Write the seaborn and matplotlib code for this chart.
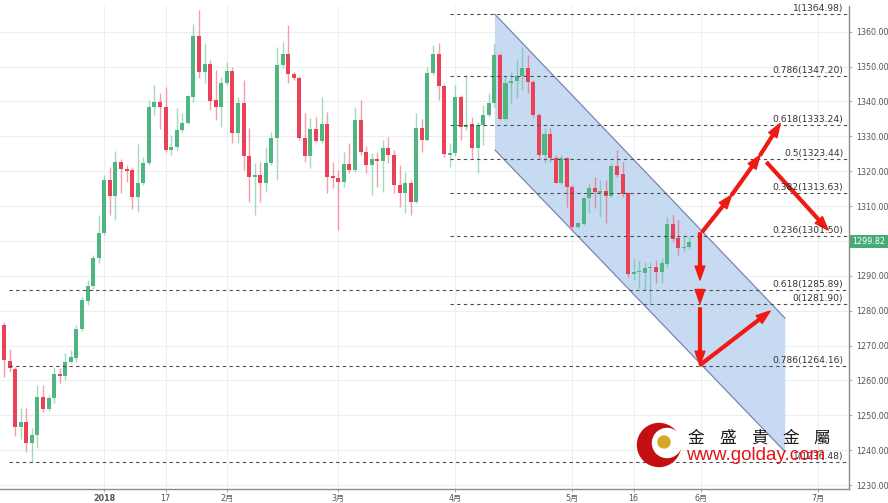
import matplotlib
matplotlib.use('Agg')
import matplotlib.pyplot as plt
import matplotlib.transforms as mtransforms
from matplotlib.patches import Polygon, Circle
import seaborn as sns
import numpy as np

# daily XAUUSD candles, Dec 2017 - end of May 2018
opens = [1275.9, 1265.6, 1263.3, 1246.7, 1248.2, 1242.0, 1244.3, 1255.3, 1251.7, 1255.0,
         1261.8, 1261.3, 1265.4, 1266.3, 1274.7, 1282.8, 1287.1, 1295.0, 1302.2, 1317.5,
         1312.9, 1322.7, 1320.5, 1320.3, 1312.7, 1316.7, 1322.3, 1338.5, 1339.9, 1338.5,
         1326.1, 1326.8, 1331.8, 1333.9, 1341.4, 1358.8, 1348.5, 1350.7, 1340.4, 1338.5,
         1345.2, 1348.8, 1331.0, 1339.6, 1324.4, 1318.4, 1318.9, 1316.5, 1322.4, 1329.4,
         1350.6, 1353.5, 1347.8, 1346.8, 1329.4, 1324.4, 1332.1, 1328.7, 1333.4, 1318.6,
         1318.0, 1316.8, 1322.1, 1320.3, 1334.7, 1325.6, 1321.8, 1323.4, 1322.9, 1326.6,
         1324.6, 1316.0, 1313.7, 1316.7, 1311.2, 1332.3, 1328.9, 1348.1, 1353.6, 1344.4,
         1324.6, 1325.1, 1341.4, 1332.8, 1333.4, 1326.6, 1333.2, 1336.1, 1339.6, 1353.3,
         1334.9, 1345.2, 1345.9, 1347.3, 1349.5, 1345.7, 1336.1, 1324.6, 1330.6, 1323.7,
         1316.7, 1323.7, 1315.6, 1304.1, 1304.9, 1312.2, 1315.1, 1313.8, 1314.4, 1312.9,
         1321.5, 1319.2, 1313.7, 1290.5, 1291.0, 1290.7, 1292.1, 1292.6, 1291.2, 1293.4,
         1304.9, 1300.8, 1297.9, 1298.2]
highs = [1276.8, 1269.0, 1263.8, 1252.1, 1252.1, 1246.3, 1258.7, 1258.7, 1255.8, 1263.9,
         1263.5, 1267.9, 1268.7, 1275.9, 1283.9, 1288.8, 1296.0, 1307.4, 1318.9, 1321.3,
         1325.9, 1323.5, 1321.8, 1320.9, 1327.8, 1324.2, 1340.4, 1344.7, 1342.3, 1344.1,
         1330.4, 1338.0, 1336.6, 1341.9, 1362.2, 1366.2, 1356.8, 1351.9, 1349.0, 1347.1,
         1351.4, 1350.0, 1341.4, 1346.1, 1332.3, 1322.3, 1322.7, 1327.0, 1331.3, 1355.7,
         1357.1, 1361.9, 1348.5, 1347.3, 1336.6, 1335.3, 1335.6, 1341.4, 1337.1, 1322.7,
         1320.3, 1325.6, 1328.0, 1338.5, 1340.4, 1327.2, 1325.1, 1325.6, 1328.9, 1329.9,
         1326.1, 1321.8, 1319.9, 1317.5, 1336.6, 1334.9, 1350.0, 1356.2, 1356.8, 1345.0,
         1328.0, 1344.7, 1341.9, 1347.6, 1335.6, 1334.2, 1339.0, 1342.5, 1356.5, 1353.8,
         1347.1, 1348.5, 1351.9, 1355.7, 1353.3, 1346.1, 1336.6, 1332.3, 1332.3, 1324.6,
         1324.6, 1324.1, 1316.0, 1305.5, 1312.7, 1316.5, 1318.4, 1317.5, 1317.5, 1322.3,
         1326.1, 1322.7, 1314.1, 1295.0, 1294.5, 1294.0, 1293.9, 1294.5, 1295.0, 1306.9,
         1307.4, 1306.0, 1301.7, 1301.2]
lows = [1261.1, 1262.5, 1244.1, 1243.2, 1239.6, 1236.6, 1240.6, 1251.0, 1251.2, 1253.5,
        1259.3, 1260.1, 1265.0, 1265.4, 1274.2, 1281.6, 1285.9, 1293.7, 1301.7, 1307.4,
        1306.0, 1313.7, 1317.0, 1309.2, 1308.4, 1316.0, 1321.8, 1336.1, 1332.0, 1325.6,
        1324.6, 1326.1, 1331.3, 1333.5, 1339.9, 1346.6, 1345.2, 1337.5, 1334.7, 1332.8,
        1344.7, 1328.0, 1328.0, 1320.3, 1311.2, 1307.4, 1311.2, 1314.1, 1321.8, 1317.5,
        1349.5, 1345.2, 1346.1, 1328.9, 1322.7, 1320.8, 1328.4, 1328.0, 1313.7, 1315.1,
        1303.1, 1315.6, 1319.4, 1319.9, 1324.6, 1319.4, 1313.2, 1315.6, 1314.1, 1322.3,
        1313.7, 1309.8, 1307.9, 1307.4, 1310.9, 1325.6, 1328.6, 1347.6, 1340.4, 1324.1,
        1321.3, 1324.4, 1328.9, 1331.8, 1323.7, 1319.4, 1327.5, 1335.6, 1338.5, 1334.7,
        1334.7, 1339.5, 1340.9, 1343.3, 1342.3, 1335.5, 1323.7, 1322.3, 1322.7, 1316.5,
        1316.3, 1309.8, 1303.3, 1303.6, 1304.6, 1307.9, 1309.4, 1306.9, 1305.1, 1312.7,
        1318.4, 1312.7, 1289.7, 1288.8, 1286.4, 1285.9, 1282.1, 1287.8, 1287.8, 1292.6,
        1299.8, 1296.0, 1296.9, 1297.7]
closes = [1265.9, 1263.5, 1246.7, 1248.2, 1242.0, 1244.3, 1255.3, 1251.7, 1255.0, 1261.8,
          1261.3, 1265.4, 1266.6, 1274.7, 1283.1, 1287.1, 1295.0, 1302.2, 1317.5, 1312.9,
          1322.7, 1320.5, 1320.1, 1312.7, 1316.7, 1322.4, 1338.5, 1339.9, 1338.5, 1326.1,
          1326.8, 1331.8, 1333.9, 1341.6, 1358.8, 1348.5, 1350.7, 1340.2, 1338.3, 1345.2,
          1348.8, 1331.0, 1339.6, 1324.4, 1318.4, 1318.9, 1316.5, 1322.4, 1329.4, 1350.6,
          1353.5, 1347.8, 1346.6, 1329.4, 1324.4, 1332.1, 1328.7, 1333.4, 1318.4, 1318.0,
          1316.8, 1322.1, 1320.3, 1334.7, 1325.6, 1321.8, 1323.4, 1322.9, 1326.6, 1324.6,
          1316.0, 1313.7, 1316.7, 1311.2, 1332.3, 1328.9, 1348.1, 1353.6, 1344.4, 1324.9,
          1325.1, 1341.4, 1332.8, 1333.2, 1326.6, 1333.2, 1336.1, 1339.6, 1353.3, 1334.9,
          1345.2, 1345.9, 1347.3, 1349.5, 1345.7, 1336.1, 1324.6, 1330.6, 1323.7, 1316.7,
          1323.7, 1315.6, 1304.1, 1305.1, 1312.2, 1315.1, 1314.1, 1314.4, 1312.9, 1321.5,
          1318.9, 1313.5, 1290.4, 1291.0, 1291.2, 1292.3, 1292.5, 1291.2, 1293.6, 1304.9,
          1300.6, 1297.9, 1298.3, 1299.8]

tick_pos = [18, 29, 40, 60, 81, 102, 113, 125, 146]
tick_labels = ['2018', '17', '2月', '3月', '4月', '5月', '16', '6月', '7月']
price_ticks = list(range(1230, 1361, 10))

# fibonacci levels
fib_values = [1364.98, 1347.20, 1333.24, 1323.44, 1313.63, 1301.50,
              1285.89, 1281.90, 1264.16, 1236.48]
fib_labels = ['1(1364.98)', '0.786(1347.20)', '0.618(1333.24)', '0.5(1323.44)',
              '0.382(1313.63)', '0.236(1301.50)', '0.618(1285.89)', '0(1281.90)',
              '0.786(1264.16)', '1(1236.48)']
fib_start = [80, 80, 80, 80, 80, 80, 0.9, 80, 0.9, 0.9]

# down channel
channel_x = [88.1, 140.2, 140.2, 88.1]
channel_y = [1365.0, 1277.8, 1239.5, 1326.1]

# red scenario arrows (start, end)
arrows = [((125.3, 1302.6), (130.6, 1313.2)),
          ((130.6, 1313.2), (135.7, 1324.6)),
          ((135.7, 1324.6), (139.3, 1333.7)),
          ((136.9, 1322.5), (147.9, 1303.1)),
          ((124.9, 1302.3), (124.9, 1288.8)),
          ((124.9, 1286.0), (124.9, 1282.1)),
          ((124.9, 1280.8), (124.9, 1264.4)),
          ((124.9, 1264.4), (137.5, 1279.9))]
last_price = 1299.82

sns.set_theme(style='white')
plt.rcParams['font.family'] = ['DejaVu Sans', 'Noto Sans CJK SC']

fig = plt.figure(figsize=(8.88, 5.03), dpi=100)
ax = fig.add_axes([0, 0.0284, 0.9561, 0.9596])

x = np.arange(len(opens))
o = np.array(opens)
h = np.array(highs)
l = np.array(lows)
c = np.array(closes)
col = np.where(c >= o, '#4fb581', '#eb4157')

# channel sits under the candles
ax.add_patch(Polygon(list(zip(channel_x, channel_y)), closed=True,
                     fc='#c6daf1', ec='none', zorder=1.5))
ax.plot(channel_x[:2], channel_y[:2], color='#7d84b2', lw=0.9, zorder=3.5)
ax.plot([channel_x[3], channel_x[2]], [channel_y[3], channel_y[2]], color='#7d84b2', lw=0.9, zorder=3.5)

# candles
ax.vlines(x, l, h, colors=col, lw=1.0, alpha=0.5, zorder=2)
body = np.maximum(np.abs(c - o), 0.45)
ax.bar(x, body, bottom=np.minimum(o, c), width=0.72, color=col, lw=0, zorder=2.5)

x_right = 151.65
for v, lab, s in zip(fib_values, fib_labels, fib_start):
    ax.hlines(v, s, x_right, colors='#4d4d4d', linestyles=(0, (3, 3)), lw=0.8, zorder=4)
    ax.text(150.6, v + 0.3, lab, ha='right', va='bottom', fontsize=6.6, color='#333333', zorder=6)

for start, end in arrows:
    ax.annotate('', xy=end, xytext=start,
                arrowprops=dict(arrowstyle='simple,head_length=1.0,head_width=0.7,tail_width=0.2',
                                mutation_scale=10, color='#f01a14', shrinkA=0, shrinkB=0),
                zorder=5)

ax.set_xlim(-0.72, x_right)
ax.set_ylim(1228.94, 1367.37)

ax.grid(True, color='#eceef2', lw=0.8)
ax.set_axisbelow(True)
for side in ['left', 'top']:
    ax.spines[side].set_visible(False)
for side in ['bottom', 'right']:
    ax.spines[side].set_color('#8c8c8c')
    ax.spines[side].set_linewidth(1.0)

ax.yaxis.tick_right()
ax.set_yticks(price_ticks)
# the 1300 label sits under the last-price tag
ax.set_yticklabels(['' if v == 1300 else f'{v:.2f}' for v in price_ticks])
ax.set_xticks(tick_pos)
ax.set_xticklabels(tick_labels)
ax.get_xticklabels()[0].set_fontweight('bold')
ax.tick_params(axis='y', right=True, left=False, length=2.5, width=0.6, colors='#999999',
               labelsize=5.8, labelcolor='#555555', pad=3)
ax.tick_params(axis='x', bottom=True, length=2.5, width=0.6, colors='#999999',
               labelsize=5.8, labelcolor='#555555', pad=1.5)

trans = mtransforms.blended_transform_factory(ax.transAxes, ax.transData)
ax.text(1.004, last_price, f'{last_price:.2f}', transform=trans, ha='left', va='center',
        fontsize=5.8, color='white', zorder=10, clip_on=False,
        bbox=dict(boxstyle='square,pad=0.3', fc='#47ab78', ec='none'))

# watermark logo
ov = fig.add_axes([0, 0, 1, 1], zorder=20)
ov.set_xlim(0, 888)
ov.set_ylim(503, 0)
ov.axis('off')
ov.patch.set_alpha(0)
ov.add_patch(Circle((659, 445), 21.5, color='#c40f12'))
ov.add_patch(Circle((667, 443), 14.5, color='white'))
ov.add_patch(Circle((664, 442), 6, color='#d4a82a'))
for k, ch in enumerate('金盛貴金屬'):
    ov.text(696 + 31.5 * k, 438, ch, fontsize=12, family=['Noto Sans CJK TC'],
            ha='center', va='center', color='#1a1a1a')
ov.text(686, 456, 'www.golday.com', fontsize=13.5, family=['Liberation Sans', 'DejaVu Sans'],
        color='#e3141b', ha='left', va='center')

fig.savefig('out.png', dpi=100)
